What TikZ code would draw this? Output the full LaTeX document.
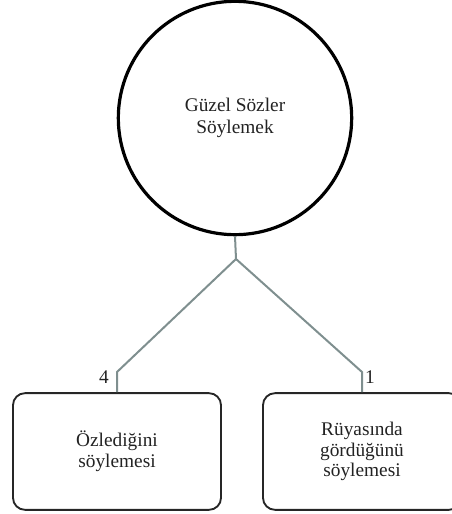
\documentclass[tikz,border=0pt]{standalone}
\usepackage{fontspec}
\setmainfont{Liberation Serif}
\definecolor{linkgray}{HTML}{7F8F8F}
\definecolor{txtgray}{HTML}{222222}
\tikzset{
  topic/.style={circle,draw=black,line width=2.4pt,minimum size=175pt,inner sep=0pt,
    align=center,font=\fontsize{14.5}{16.5}\selectfont,text=txtgray},
  reason/.style={draw=black!85,line width=1.4pt,rounded corners=9pt,minimum width=156pt,
    minimum height=87.5pt,align=center,font=\fontsize{14.5}{15.5}\selectfont,text=txtgray},
  link/.style={draw=linkgray,line width=1.5pt},
  count/.style={font=\fontsize{14.5}{15}\selectfont,text=txtgray,inner sep=1pt}
}
\begin{document}
\begin{tikzpicture}[x=0.75pt,y=-0.75pt]
\useasboundingbox (0,0) rectangle (452,514);
\node[topic] (soz) at (235,118) {Güzel Sözler\\Söylemek};
\node[reason] (ozl) at (117,451.5) {Özlediğini\\söylemesi};
\node[reason,minimum width=148.5pt] (ruya) at (362,451.5) {Rüyasında\\gördüğünü\\söylemesi};
\coordinate (fork) at (236,259);
\coordinate (bl) at (117,372);
\coordinate (br) at (362,372);
\draw[link] (soz.south) -- (fork) -- (bl) -- (ozl.north);
\draw[link] (fork) -- (br) -- (ruya.north);
\node[count] (n4) at (104,377) {4};
\node[count] (n1) at (370,377) {1};
\end{tikzpicture}
\end{document}
